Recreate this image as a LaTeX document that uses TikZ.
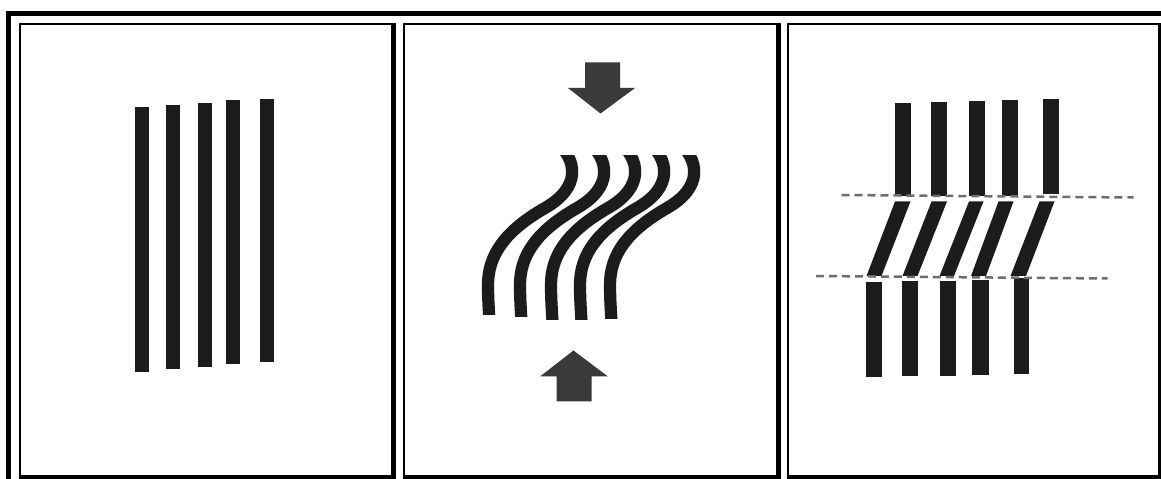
\documentclass[tikz,border=0pt]{standalone}
\begin{document}
\definecolor{barcol}{HTML}{1C1C1C}
\definecolor{arrowcol}{HTML}{3A3A3A}
\definecolor{cutcol}{HTML}{6E6E6E}
\begin{tikzpicture}[x=0.02cm,y=-0.02cm,
  rule/.style={fill=black},
  bar/.style={fill=barcol},
  pusharrow/.style={fill=arrowcol},
  band/.style={draw=barcol,line width=0.245cm,line cap=butt},
  cutline/.style={draw=cutcol,line width=0.05cm,dash pattern=on 0.16cm off 0.1cm}]
\useasboundingbox (0,0) rectangle (1161,479);
\fill[white] (0,0) rectangle (1161,479);

% outer frame (top and left)
\fill[rule] (6,11) rectangle (1161,16);
\fill[rule] (6,11) rectangle (11,479);

% panel frames: thin top/left, heavy right/bottom
\foreach \l/\r/\rw in {18.5/395.5/5, 402.5/780.5/5, 787/1161/3.5}{
  \fill[rule] (\l,23) rectangle (\r,25);
  \fill[rule] (\l,23) rectangle (\l+2,479);
  \fill[rule] (\r-\rw,23) rectangle (\r,479);
  \fill[rule] (\l,475) rectangle (\r,479);
}

% panel 1: straight fibres
\foreach \a/\b/\t/\u in {135/149/107/372, 165.5/179.5/105.5/369.5, 197.5/211.5/103.5/367.5, 225.5/239.5/100/364.5, 260/274/99/362}{
  \fill[bar] (\a,\t) rectangle (\b,\u);
}

% panel 2: compression arrows
\fill[pusharrow] (585,62.5) -- (620,62.5) -- (620,88) -- (635,88) -- (600.5,113.5)
  -- (568,88) -- (585,88) -- cycle;
\fill[pusharrow] (556.5,401.5) -- (591.5,401.5) -- (591.5,376.5) -- (608,376.5)
  -- (573.5,350.5) -- (540,376.5) -- (556.5,376.5) -- cycle;

% panel 2: buckled fibres
\foreach \dx/\yb in {0/315, 32/317, 63/320, 92/320, 122/319}{
  \begin{scope}
    \clip (400,155.5) rectangle (780,\yb);
    \draw[band,shift={(\dx,0)}] (552,138) .. controls (580,160) and (580,188) .. (545,208)
      .. controls (505,231) and (488,255) .. (488,285)
      .. controls (488,300) and (489,312) .. (490,330);
  \end{scope}
}

% panel 3: kink band
\foreach \a/\b/\t/\u in {895/910.5/103.5/196.5, 931/947/102/196.5, 969/984.5/101/196, 1001.5/1017.5/100/196, 1042.5/1058.5/99/194.5}{
  \fill[bar] (\a,\t) rectangle (\b,\u);
}
\foreach \a/\b/\c/\d in {895/910.5/881.5/866.5, 931.5/947/917.5/902.5, 969/983.5/954/939.5, 998.5/1013.5/986/971, 1039.5/1054.5/1026/1010.5}{
  \fill[bar] (\a,201.5) -- (\b,201.5) -- (\c,276) -- (\d,276) -- cycle;
}
\foreach \a/\b/\t/\u in {865.5/881.5/282.5/377.5, 902/917.5/281.5/376.5, 939.5/955.5/281/376, 972/988.5/280/375, 1013.5/1029/278.5/374}{
  \fill[bar] (\a,\t) rectangle (\b,\u);
}
\coordinate (ka) at (841.5,195);
\coordinate (kb) at (1133.5,197.5);
\coordinate (kc) at (816,276);
\coordinate (kd) at (1107.5,278.5);
\draw[cutline] (ka) -- (kb);
\draw[cutline] (kc) -- (kd);
\end{tikzpicture}
\end{document}
